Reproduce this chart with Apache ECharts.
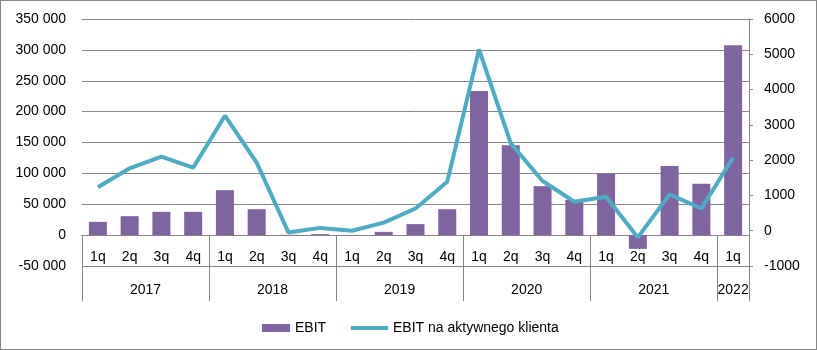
<!DOCTYPE html>
<html>
<head>
<meta charset="utf-8">
<script src="https://cdn.jsdelivr.net/npm/echarts@6/dist/echarts.min.js"></script>
<style>
  html, body { margin: 0; padding: 0; background: #fff; }
  #chart { width: 817px; height: 350px; box-sizing: border-box; border: 1px solid #868686; }
</style>
</head>
<body>
<div id="chart"></div>
<script>
var quarters = ['1q', '2q', '3q', '4q', '1q', '2q', '3q', '4q', '1q', '2q', '3q', '4q',
  '1q', '2q', '3q', '4q', '1q', '2q', '3q', '4q', '1q'];
var years = ['2017', '2018', '2019', '2020', '2021', '2022'];
var yearCenters = [2, 6, 10, 14, 18, 20.5];
var yearBounds = [0, 4, 8, 12, 16, 20, 21];
var ebit = [21500, 30700, 37700, 37700, 72800, 42000, 500, 1600, 300, 5300, 17800, 42000,
  233500, 145600, 79300, 57000, 99800, -22200, 112100, 83000, 307400];
var ebitPerClient = [1230, 1770, 2100, 1785, 3260, 1930, -50, 80, 0, 230, 630, 1390,
  5140, 2475, 1410, 820, 960, -190, 1030, 630, 2070];

var font = 'Liberation Sans';
var grey = '#868686';

function fmtSpace (v) {
  var s = String(Math.abs(v)).replace(/\B(?=(\d{3})+(?!\d))/g, ' ');
  return (v < 0 ? '-' : '') + s;
}

var chart = echarts.init(document.getElementById('chart'));
chart.setOption({
  animation: false,
  textStyle: { fontFamily: font },
  grid: { left: 81, right: 67, top: 18, bottom: 83, containLabel: false },
  legend: [
    {
      left: 256,
      top: 315,
      itemWidth: 28,
      itemHeight: 8,
      icon: 'rect',
      textStyle: { fontFamily: font, fontSize: 14, color: '#000' },
      data: ['EBIT']
    },
    {
      left: 345,
      top: 315,
      itemWidth: 37,
      itemHeight: 4,
      itemGap: 0,
      icon: 'rect',
      textStyle: { fontFamily: font, fontSize: 14, color: '#000' },
      data: ['EBIT na aktywnego klienta']
    }
  ],
  xAxis: [
    {
      type: 'category',
      data: quarters,
      position: 'bottom',
      axisLine: { onZero: true, onZeroAxisIndex: 0, lineStyle: { color: grey } },
      axisTick: { show: false },
      axisLabel: { interval: 0, margin: -16, fontSize: 14, color: '#000', fontFamily: font }
    },
    {
      type: 'value',
      min: 0,
      max: 21,
      position: 'bottom',
      splitLine: { show: false },
      axisLine: { show: true, onZero: true, onZeroAxisIndex: 0, lineStyle: { color: grey } },
      axisTick: { show: true, length: 66, customValues: yearBounds, lineStyle: { color: grey } },
      axisLabel: {
        customValues: yearCenters,
        margin: 17,
        fontSize: 14,
        color: '#000',
        fontFamily: font,
        formatter: function (v) {
          var i = yearCenters.indexOf(v);
          return i >= 0 ? years[i] : '';
        }
      }
    }
  ],
  yAxis: [
    {
      type: 'value',
      min: -50000,
      max: 350000,
      interval: 50000,
      axisLine: { show: false },
      axisTick: { show: false },
      splitLine: { lineStyle: { color: grey } },
      axisLabel: { margin: 16, fontSize: 14, color: '#000', fontFamily: font, formatter: fmtSpace }
    },
    {
      type: 'value',
      min: -1000,
      max: 6000,
      interval: 1000,
      position: 'right',
      axisLine: { show: true, lineStyle: { color: grey } },
      axisTick: { show: true, length: 4, lineStyle: { color: grey } },
      splitLine: { show: false },
      axisLabel: { margin: 15, fontSize: 14, color: '#000', fontFamily: font, formatter: function (v) { return String(v); } }
    }
  ],
  series: [
    {
      name: 'EBIT',
      type: 'bar',
      xAxisIndex: 0,
      yAxisIndex: 0,
      barWidth: 18,
      itemStyle: { color: '#8064A2' },
      data: ebit
    },
    {
      name: 'EBIT na aktywnego klienta',
      type: 'line',
      xAxisIndex: 0,
      yAxisIndex: 1,
      symbol: 'none',
      lineStyle: { color: '#4BACC6', width: 4 },
      itemStyle: { color: '#4BACC6' },
      data: ebitPerClient
    }
  ]
});
</script>
</body>
</html>
